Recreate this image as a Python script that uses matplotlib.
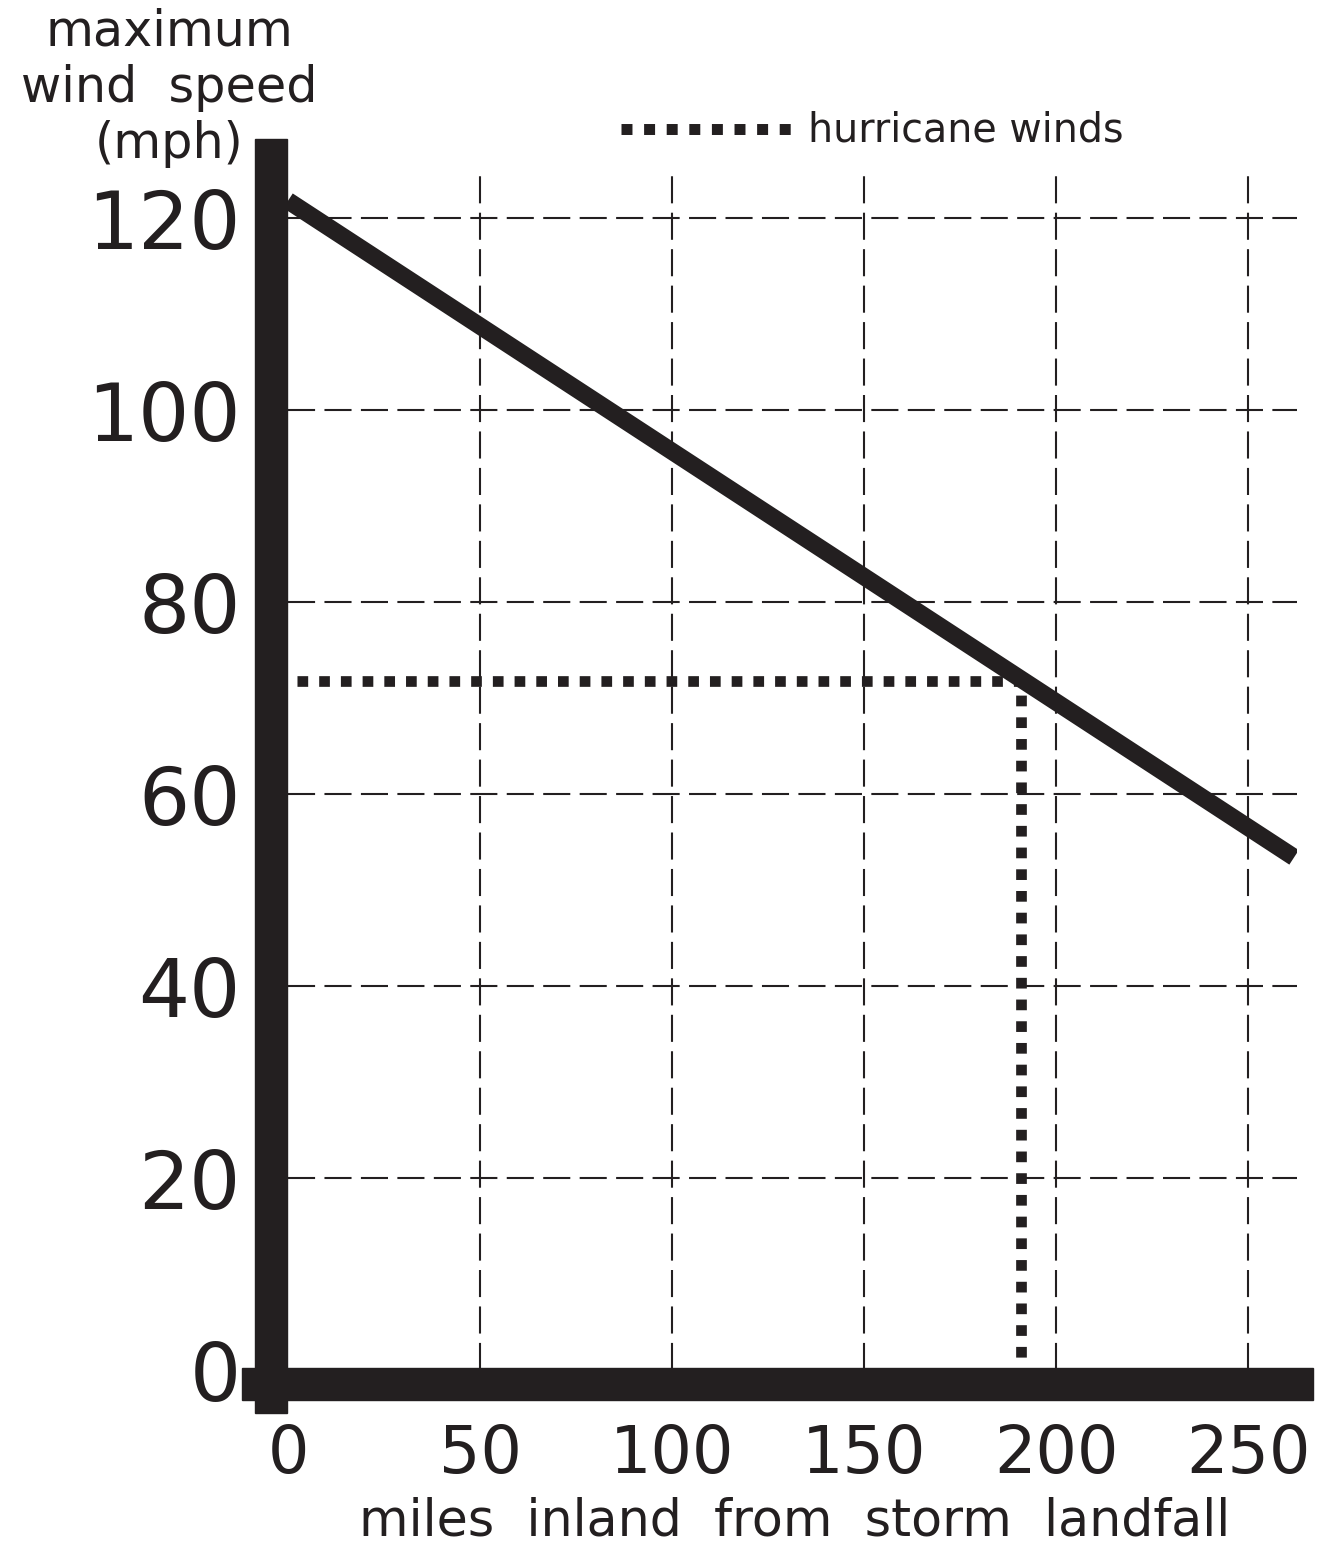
import numpy as np
import matplotlib.pyplot as plt
from matplotlib.patches import Rectangle
from matplotlib.lines import Line2D

# picture size in pixels (dpi 100)
W, H = 1326, 1545
INK = '#231f20'

### Data ###
# main line: maximum wind speed vs miles inland
distance = [0, 262]
max_wind = [121.8, 53.4]
# hurricane winds threshold (dotted)
hurricane_distance = [0, 190.9, 190.9]
hurricane_wind = [71.8, 71.8, 0]
# ticks
x_ticks = [0, 50, 100, 150, 200, 250]
y_ticks = [0, 20, 40, 60, 80, 100, 120]

plt.rcParams['font.family'] = ['DejaVu Sans']

fig = plt.figure(figsize=(W / 100, H / 100), dpi=100)

def fx(x):
    return x / W

def fy(y):
    # y measured from the top in pixels
    return 1 - y / H

# data area: x 288..1297 px, y 175..1370 px
ax = fig.add_axes([fx(288), fy(1370), (1297 - 288) / W, (1370 - 175) / H])
ax.set_xlim(0, 262.76)
ax.set_ylim(0, 124.48)
for s in ax.spines.values():
    s.set_visible(False)

ax.set_xticks(x_ticks)
ax.set_yticks(y_ticks)
ax.set_xticklabels([str(v) for v in x_ticks], fontsize=47, color=INK)
ax.set_yticklabels([str(v) for v in y_ticks], fontsize=58, color=INK)
ax.tick_params(axis='x', length=0, pad=38)
ax.tick_params(axis='y', length=0, pad=34)

ax.grid(True, color=INK, linewidth=1.5, linestyle=(0, (13, 4.5)))
ax.set_axisbelow(True)
# the gridlines at 0 sit under the heavy axis bars
ax.xaxis.get_gridlines()[0].set_visible(False)
ax.yaxis.get_gridlines()[0].set_visible(False)

# hurricane winds dotted line
ax.plot(hurricane_distance, hurricane_wind, color=INK, lw=7.7,
        linestyle=(1.19, (1.0, 1.03)), dash_capstyle='butt', zorder=3)
# wind speed line
ax.plot(distance, max_wind, color=INK, lw=12.5, solid_capstyle='butt', zorder=4)

# heavy axis bars
fig.add_artist(Rectangle((fx(255), fy(1413)), 32 / W, (1413 - 139) / H,
                         transform=fig.transFigure, color=INK, zorder=5))
fig.add_artist(Rectangle((fx(242), fy(1400)), (1313 - 242) / W, 32 / H,
                         transform=fig.transFigure, color=INK, zorder=5))

# y-axis title, three centred lines
for txt, base in [('maximum', 45), ('wind  speed', 102), ('(mph)', 158)]:
    fig.text(fx(169), fy(base), txt, ha='center', va='baseline',
             fontsize=35.5, color=INK)

# x-axis title
fig.text(fx(795), fy(1535), 'miles  inland  from  storm  landfall',
         ha='center', va='baseline', fontsize=36.5, color=INK)

# legend
fig.add_artist(Line2D([fx(621), fx(792)], [fy(128.5), fy(128.5)],
                      transform=fig.transFigure, color=INK, lw=7.9,
                      linestyle=(0, (1.0, 1.06)), dash_capstyle='butt'))
fig.text(fx(808), fy(142), 'hurricane winds', ha='left', va='baseline',
         fontsize=28.5, color=INK)

fig.savefig('out.png', dpi=100)
